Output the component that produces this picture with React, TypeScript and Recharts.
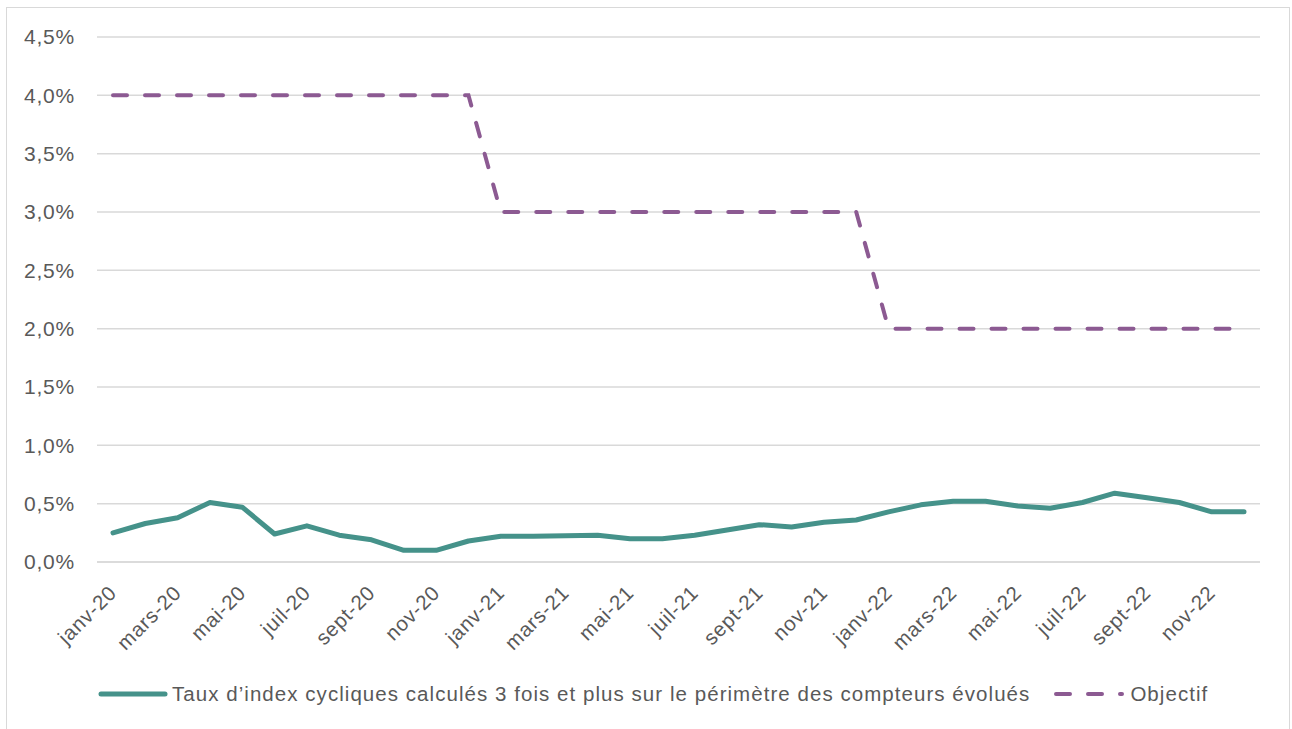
import { LineChart, Line, XAxis, YAxis, CartesianGrid, Legend } from "recharts";

const months = [
  "janv-20", "févr-20", "mars-20", "avr-20", "mai-20", "juin-20", "juil-20", "août-20", "sept-20", "oct-20", "nov-20", "déc-20",
  "janv-21", "févr-21", "mars-21", "avr-21", "mai-21", "juin-21", "juil-21", "août-21", "sept-21", "oct-21", "nov-21", "déc-21",
  "janv-22", "févr-22", "mars-22", "avr-22", "mai-22", "juin-22", "juil-22", "août-22", "sept-22", "oct-22", "nov-22", "déc-22",
];

// taux en %
const taux = [
  0.25, 0.33, 0.38, 0.51, 0.47, 0.24, 0.31, 0.23, 0.19, 0.1, 0.1, 0.18,
  0.22, 0.22, 0.225, 0.23, 0.2, 0.2, 0.23, 0.275, 0.32, 0.3, 0.34, 0.36,
  0.43, 0.49, 0.52, 0.52, 0.48, 0.46, 0.51, 0.59, 0.55, 0.51, 0.43, 0.43,
];

const objectif = [
  4, 4, 4, 4, 4, 4, 4, 4, 4, 4, 4, 4,
  3, 3, 3, 3, 3, 3, 3, 3, 3, 3, 3, 3,
  2, 2, 2, 2, 2, 2, 2, 2, 2, 2, 2, 2,
];

const yTicks = [0, 0.5, 1, 1.5, 2, 2.5, 3, 3.5, 4, 4.5];

const TEAL = "#45928A";
const PURPLE = "#8C5A92";
const TEXT = "#595959";
const FONT = "'Liberation Sans', Arial, sans-serif";

const data = months.map((m, i) => ({ month: m, taux: taux[i], objectif: objectif[i] }));

const fmtPct = (v: number) => v.toFixed(1).replace(".", ",") + "%";

const MonthTick = ({ x, y, payload }: any) => (
  <text
    x={x + 5}
    y={y + 24}
    textAnchor="end"
    fill={TEXT}
    fontSize={20.5}
    letterSpacing={0.8}
    fontFamily={FONT}
    transform={`rotate(-45, ${x + 5}, ${y + 24})`}
  >
    {payload.value}
  </text>
);

const LegendContent = () => (
  <div
    style={{
      height: 30,
      display: "flex",
      alignItems: "center",
      paddingLeft: 98,
      fontFamily: FONT,
      fontSize: 20.5,
      letterSpacing: 1.05,
      color: TEXT,
      whiteSpace: "nowrap",
    }}
  >
    <svg width={70} height={10} style={{ marginRight: 4 }}>
      <line x1={3} y1={5} x2={67} y2={5} stroke={TEAL} strokeWidth={5} strokeLinecap="round" />
    </svg>
    <span>Taux d’index cycliques calculés 3 fois et plus sur le périmètre des compteurs évolués</span>
    <svg width={72} height={10} style={{ marginLeft: 24, marginRight: 4 }}>
      <line
        x1={2}
        y1={5}
        x2={68}
        y2={5}
        stroke={PURPLE}
        strokeWidth={4}
        strokeLinecap="round"
        strokeDasharray="14 18"
      />
    </svg>
    <span>Objectif</span>
  </div>
);

export default function App() {
  return (
    <div style={{ position: "relative", width: 1292, height: 729, background: "#fff" }}>
      <style>{`body{margin:0}`}</style>
      <div
        style={{
          position: "absolute",
          left: 6,
          top: 7,
          width: 1284,
          height: 740,
          border: "1px solid #D9D9D9",
          boxSizing: "border-box",
        }}
      />
      <LineChart
        width={1292}
        height={729}
        data={data}
        margin={{ top: 37, right: 32, left: 0, bottom: 20 }}
        style={{ position: "absolute", left: 0, top: 0 }}
      >
        <CartesianGrid vertical={false} stroke="#D9D9D9" strokeWidth={1.5} />
        <XAxis
          dataKey="month"
          interval={1}
          height={117}
          padding={{ left: 16, right: 16 }}
          tick={<MonthTick />}
          tickLine={false}
          axisLine={{ stroke: "#D9D9D9", strokeWidth: 1.5 }}
        />
        <YAxis
          width={97}
          domain={[0, 4.5]}
          ticks={yTicks}
          tickFormatter={fmtPct}
          tick={{ fill: TEXT, fontSize: 21, fontFamily: FONT, letterSpacing: 0.8 }}
          tickSize={0}
          tickMargin={22}
          axisLine={false}
          tickLine={false}
        />
        <Legend verticalAlign="bottom" content={<LegendContent />} wrapperStyle={{ left: 0, width: 1292 }} />
        <Line
          dataKey="objectif"
          stroke={PURPLE}
          strokeWidth={4}
          strokeDasharray="14 18"
          strokeLinecap="round"
          dot={false}
          isAnimationActive={false}
          name="Objectif"
        />
        <Line
          dataKey="taux"
          stroke={TEAL}
          strokeWidth={5}
          strokeLinejoin="round"
          strokeLinecap="round"
          dot={false}
          isAnimationActive={false}
          name="Taux d’index cycliques calculés 3 fois et plus sur le périmètre des compteurs évolués"
        />
      </LineChart>
    </div>
  );
}
